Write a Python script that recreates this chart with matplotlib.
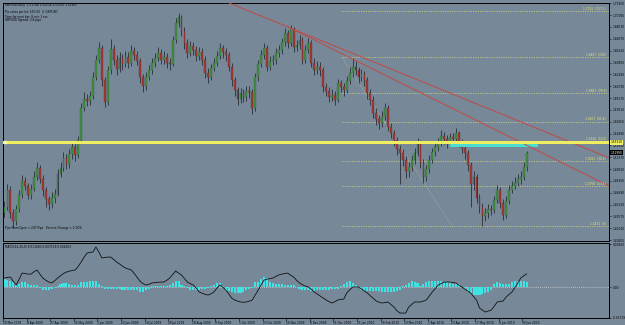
import matplotlib
matplotlib.use('Agg')
import matplotlib.pyplot as plt
import numpy as np
from matplotlib.patches import Rectangle

# ---------------- data (prices in 1/10000, MACD in 1/10000) ----------------
date_labels = ["20 Mar 2009", "8 Apr 2009", "27 Apr 2009", "15 May 2009", "3 Jun 2009",
               "22 Jun 2009", "10 Jul 2009", "29 Jul 2009", "18 Aug 2009", "9 Sep 2009",
               "1 Oct 2009", "23 Oct 2009", "16 Nov 2009", "8 Dec 2009", "31 Dec 2009",
               "21 Jan 2010", "16 Feb 2010", "10 Mar 2010", "1 Apr 2010", "23 Apr 2010",
               "17 May 2010", "8 Jun 2010", "30 Jun 2010"]

opens = [
14400,14480,14700,14400,14290,14450,14640,14830,14760,14640,
14720,14880,15000,14850,14700,14580,14520,14600,14650,14920,
15000,15130,15050,15180,15270,15170,15360,15790,15910,15880,
15940,16190,16420,16570,16150,15860,16280,16560,16420,16300,
16450,16370,16460,16380,16540,16480,16410,16190,16070,16200,
16290,16380,16450,16510,16420,16460,16380,16370,16680,16900,
16980,16800,16640,16510,16600,16550,16470,16520,16420,16250,
16200,16310,16380,16470,16570,16520,16480,16330,16150,16020,
15900,15980,15930,16010,15990,15780,16190,16360,16480,16580,
16330,16400,16420,16510,16550,16650,16770,16640,16820,16590,
16610,16680,16420,16550,16640,16380,16290,16330,16280,16060,
16010,15930,15960,15890,16110,16060,16020,16140,16250,16330,
16280,16190,16230,16150,15980,15890,15720,15640,15590,15670,
15780,15540,15460,15360,15250,15190,15100,14950,15010,15100,
15190,15330,15060,14880,14980,15100,15200,15270,15320,15420,
15380,15330,15400,15380,15450,15330,15260,15190,15030,14780,
14870,14600,14480,14360,14400,14460,14440,14570,14700,14540,
14380,14560,14700,14760,14800,14850,14880,15010]

highs = [
14560,14790,14760,14450,14510,14700,14900,14880,14800,14780,
14950,15080,15040,14900,14740,14620,14680,14720,14980,15070,
15200,15180,15250,15340,15310,15420,15850,15990,15970,16010,
16260,16480,16660,16610,16200,16340,16700,16620,16480,16520,
16500,16530,16520,16620,16590,16540,16450,16240,16260,16350,
16440,16510,16590,16560,16530,16510,16450,16740,16970,17040,
17010,16850,16690,16670,16660,16600,16590,16570,16470,16310,
16370,16450,16530,16640,16620,16580,16520,16380,16200,16060,
16050,16040,16080,16070,16030,16250,16420,16550,16640,16620,
16470,16490,16570,16620,16710,16840,16810,16880,16850,16680,
16750,16720,16610,16710,16680,16440,16400,16390,16320,16110,
16060,16030,16010,16170,16160,16120,16210,16320,16450,16400,
16330,16300,16270,16190,16030,15940,15780,15690,15740,15850,
15820,15590,15500,15400,15300,15240,15150,15080,15170,15260,
15390,15370,15110,15040,15160,15260,15340,15390,15490,15470,
15430,15460,15460,15520,15480,15380,15310,15230,15080,14950,
14910,14650,14530,14470,14520,14510,14630,14770,14740,14590,
14620,14770,14830,14870,14920,14950,15080,15220]

lows = [
14350,14440,14330,14210,14250,14410,14600,14700,14580,14590,
14690,14840,14800,14620,14480,14440,14470,14540,14620,14870,
14960,14980,15000,15120,15090,15130,15320,15740,15810,15830,
15900,16150,16380,16080,15800,15830,16240,16350,16220,16260,
16290,16330,16310,16340,16420,16350,16120,15990,16020,16150,
16240,16330,16400,16360,16370,16310,16290,16340,16640,16850,
16740,16560,16440,16470,16480,16400,16420,16350,16180,16120,
16160,16270,16340,16430,16450,16410,16270,16080,15950,15820,
15850,15860,15880,15920,15700,15740,16140,16320,16430,16270,
16290,16350,16370,16460,16500,16600,16580,16600,16520,16530,
16560,16360,16380,16510,16320,16220,16240,16210,15990,15940,
15860,15880,15820,15860,15990,15950,15980,16100,16200,16220,
16120,16140,16080,15910,15820,15650,15560,15510,15540,15630,
15480,15390,15280,15170,14790,15020,14860,14880,14950,15050,
15150,14990,14800,14830,14930,15060,15150,15220,15280,15310,
15260,15290,15310,15340,15270,15190,15120,14960,14480,14700,
14530,14400,14230,14290,14340,14370,14400,14530,14470,14310,
14340,14520,14660,14720,14760,14790,14840,14950]

closes = [
14480,14700,14400,14290,14450,14640,14830,14760,14640,14720,
14880,15000,14850,14700,14580,14520,14600,14650,14920,15000,
15130,15050,15180,15270,15170,15360,15790,15910,15880,15940,
16190,16420,16570,16150,15860,16280,16560,16420,16300,16450,
16370,16460,16380,16540,16480,16410,16190,16070,16200,16290,
16380,16450,16510,16420,16460,16380,16370,16680,16900,16980,
16800,16640,16510,16600,16550,16470,16520,16420,16250,16200,
16310,16380,16470,16570,16520,16480,16330,16150,16020,15900,
15980,15930,16010,15990,15780,16190,16360,16480,16580,16330,
16400,16420,16510,16550,16650,16770,16640,16820,16590,16610,
16680,16420,16550,16640,16380,16290,16330,16280,16060,16010,
15930,15960,15890,16110,16060,16020,16140,16250,16330,16280,
16190,16230,16150,15980,15890,15720,15640,15590,15670,15780,
15540,15460,15360,15250,15190,15100,14950,15010,15100,15190,
15330,15060,14880,14980,15100,15200,15270,15320,15420,15380,
15330,15400,15380,15450,15330,15260,15190,15030,14780,14870,
14600,14480,14360,14400,14460,14440,14570,14700,14540,14380,
14560,14700,14760,14800,14850,14880,15010,15190]

macd_main = [
80,85,89,50,18,70,124,120,115,115,
135,151,115,80,60,45,36,55,80,100,
120,133,140,148,151,185,222,265,302,308,
311,355,311,258,262,266,266,245,222,205,
185,169,160,151,120,85,50,30,18,25,
36,40,42,44,44,60,80,110,142,125,
107,75,44,30,18,-10,-44,-55,-65,-71,
-60,-44,-10,18,0,-27,-60,-98,-115,-125,
-133,-135,-133,-125,-115,-70,-27,20,62,70,
75,80,95,107,115,120,124,105,89,60,
36,20,8,0,-20,-44,-62,-80,-98,-115,
-130,-142,-130,-115,-110,-107,-53,-25,0,0,
0,-18,-35,-53,-78,-100,-124,-135,-142,-138,
-133,-155,-178,-210,-231,-231,-231,-178,-155,-133,
-133,-133,-125,-115,-80,-44,-15,18,30,44,
44,44,40,36,18,0,-18,-35,-53,-85,
-115,-186,-205,-222,-213,-204,-170,-133,-128,-124,
-89,-66,-44,-5,36,80,100,117]

macd_hist = [
71,62,53,44,18,30,44,44,30,18,
20,18,-10,-27,-30,-27,-18,-9,5,27,
35,35,27,20,15,18,44,44,44,53,
53,50,27,5,-18,-18,-18,-18,-18,-18,
-22,-27,-27,-27,-27,-27,-44,-40,-27,-15,
9,9,9,9,9,12,18,35,53,53,
18,5,-9,-27,-27,-27,-27,-20,-15,-9,
5,18,35,35,9,-35,-35,-45,-50,-53,
-50,-44,-30,-18,-9,44,44,70,89,80,
44,35,30,27,27,22,22,18,18,0,
-18,-27,-27,-27,-35,-35,-30,-27,-27,-27,
-22,-18,-18,-18,5,27,44,53,40,18,
0,-27,-35,-35,-35,-35,-35,-35,-44,-44,
-44,-44,-40,-35,-27,5,18,35,53,44,
35,9,27,44,53,53,53,53,53,44,
44,44,27,27,27,0,-18,-44,-60,-71,
-71,-71,-60,-53,-44,-27,27,44,40,27,
27,27,44,53,53,53,53,46]

price_ticks = [1.40450, 1.42010, 1.43570, 1.45130, 1.46690, 1.48250, 1.49810, 1.51370,
               1.52930, 1.54490, 1.56050, 1.57610, 1.59170, 1.60730, 1.62290, 1.63850,
               1.65410, 1.66970, 1.68530, 1.70090, 1.71650]
macd_ticks = [0.03820, 0.0, -0.02719]
macd_tick_labels = ["0.03820", "0.00", "-0.02719"]

fib_low, fib_high = 1.4231, 1.6457
fib_start_idx, fib_end_idx = 114.4, 151.7
fib_levels = [0.0, 23.6, 38.2, 50.0, 61.8, 78.6, 100.0, 127.2]
fib_names = ["0", "23.6", "38.2", "50.0", "61.8", "78.6", "100", "127.2"]

hline_price = 1.5331
zone_idx = [151, 181]
zone_price = [1.5278, 1.5331]
trend_a_idx, trend_a_price = [96.1, 204.2], [1.6853, 1.5140]
trend_b_idx, trend_b_price = [96.1, 204.2], [1.6853, 1.4771]
current_price = 1.51990

header_lines = ["GBPUSD,Daily  1.51748 1.52236 1.51505 1.51991",
                "Pip value per lot: $10.00  ||  GBPUSD",
                "Time for next bar: 8 min 1 sec",
                "GBPUSD Spread: 3.8 pips"]
pips_text = "Pips From Open = 247 Pips   Percent Change = 0.16%"
macd_title = "MACD(12,26,9) 0.011683 0.007119 0.004563"

# ---------------- figure ----------------
BG = '#778899'
W, H = 625, 325
plt.rcParams['font.family'] = ['DejaVu Sans']
fig = plt.figure(figsize=(W / 100, H / 100), dpi=100, facecolor=BG)
ax = fig.add_axes([3 / W, 1 - 241 / H, 606 / W, 238 / H], facecolor=BG)
ax2 = fig.add_axes([3 / W, 1 - 318 / H, 606 / W, 75 / H], facecolor=BG)

FS = 2.1
o = np.array(opens) / 1e4
h = np.array(highs) / 1e4
l = np.array(lows) / 1e4
c = np.array(closes) / 1e4
x = np.arange(len(c))
xmax = 204.9

for a in (ax, ax2):
    a.set_xlim(-0.5, xmax)
    for s in a.spines.values():
        s.set_color('black')
        s.set_linewidth(0.7)

ax.set_ylim(1.4033, 1.7169)

# fib lines
fib_prices = [fib_low + lv / 100 * (fib_high - fib_low) for lv in fib_levels]
for p, nm in zip(fib_prices, fib_names):
    ax.plot([fib_start_idx, xmax], [p, p], color='#d8d87a', lw=0.6,
            ls=(0, (1.2, 1.6)), zorder=1)
    ax.text(xmax - 1.0, p + 0.0005, f"{p:.4f}  ({nm})", fontsize=FS,
            color='#e8e870', ha='right', va='bottom', zorder=6)
ax.plot([fib_start_idx, fib_end_idx], [fib_high, fib_low], color='#c8c890',
        lw=0.5, ls=(0, (1, 2)), zorder=1)

# candles
up = c >= o
ax.vlines(x, l, h, color='#1c1c24', lw=0.5, zorder=2)
body = np.maximum(np.abs(c - o), 0.0004)
bottom = np.minimum(o, c)
ax.bar(x[up], body[up], bottom=bottom[up], width=0.62, color='#3f8f3f',
       edgecolor='#2a5a2a', linewidth=0.2, zorder=3)
ax.bar(x[~up], body[~up], bottom=bottom[~up], width=0.62, color='#a53a35',
       edgecolor='#5a2020', linewidth=0.2, zorder=3)

# zone, horizontal line, trend lines
ax.add_patch(Rectangle((zone_idx[0], zone_price[0]), zone_idx[1] - zone_idx[0],
                       zone_price[1] - zone_price[0], facecolor='#48dcd2',
                       edgecolor='none', zorder=4))
ax.axhline(hline_price, color='#eeee60', lw=2.2, zorder=5)
ax.plot([0.2], [hline_price], marker='s', ms=1.6, color='#ffffa0', zorder=6)

def trend(idx, pr, x0):
    k = (pr[1] - pr[0]) / (idx[1] - idx[0])
    xs = np.array([x0, xmax])
    return xs, pr[0] + k * (xs - idx[0])

xa, ya = trend(trend_a_idx, trend_a_price, 60)
xb, yb = trend(trend_b_idx, trend_b_price, trend_b_idx[0])
ax.plot(xa, ya, color='#c24a44', lw=0.7, zorder=4)
ax.plot(xb, yb, color='#c24a44', lw=0.7, zorder=4)

# right axis main
ax.yaxis.tick_right()
ax.set_yticks(price_ticks)
ax.set_yticklabels([f"{t:.5f}" for t in price_ticks])
ax.tick_params(axis='y', labelsize=FS, length=1.5, width=0.4, pad=1,
               colors='black')
ax.set_xticks([])
ax.text(1.003, current_price, f"{current_price:.5f}", transform=ax.get_yaxis_transform(),
        fontsize=FS, color='white', va='center', ha='left',
        bbox=dict(boxstyle='square,pad=0.15', fc='black', ec='black', lw=0), zorder=7,
        clip_on=False)
ax.text(1.003, hline_price, f"{hline_price:.5f}", transform=ax.get_yaxis_transform(),
        fontsize=FS, color='black', va='center', ha='left',
        bbox=dict(boxstyle='square,pad=0.15', fc='#eeee60', ec='none', lw=0), zorder=7,
        clip_on=False)

# texts
ys = [5, 12.5, 16.5, 20.5]
for yy, t in zip(ys, header_lines):
    fig.text(5 / W, 1 - yy / H, t, fontsize=FS, color='black', va='center', ha='left')
fig.text(5 / W, 1 - 228 / H, pips_text, fontsize=FS, color='black', va='center', ha='left')

# MACD
mm = np.array(macd_main) / 1e4
mh = np.array(macd_hist) / 1e4
ax2.set_ylim(-0.0275, 0.0391)
ax2.axhline(0, color='#dddddd', lw=0.5, ls=(0, (1.2, 1.6)), zorder=1)
ax2.bar(x, mh, width=0.7, color='#3fe3e3', edgecolor='none', zorder=2)
ax2.plot(x, mm, color='#111111', lw=0.6, zorder=3)
ax2.yaxis.tick_right()
ax2.set_yticks(macd_ticks)
ax2.set_yticklabels(macd_tick_labels)
ax2.tick_params(axis='y', labelsize=FS, length=1.5, width=0.4, pad=1)
ax2.text(2 / 606, 1 - 4 / 75, macd_title, transform=ax2.transAxes, fontsize=FS,
         color='black', va='center', ha='left')

tick_pos = [8 * k - 0.5 for k in range(len(date_labels))]
ax2.set_xticks(tick_pos)
ax2.set_xticklabels(date_labels, ha='left')
ax2.tick_params(axis='x', labelsize=FS, length=2, width=0.4, pad=0.5, direction='out')

fig.savefig('out.png', dpi=100, facecolor=BG)
